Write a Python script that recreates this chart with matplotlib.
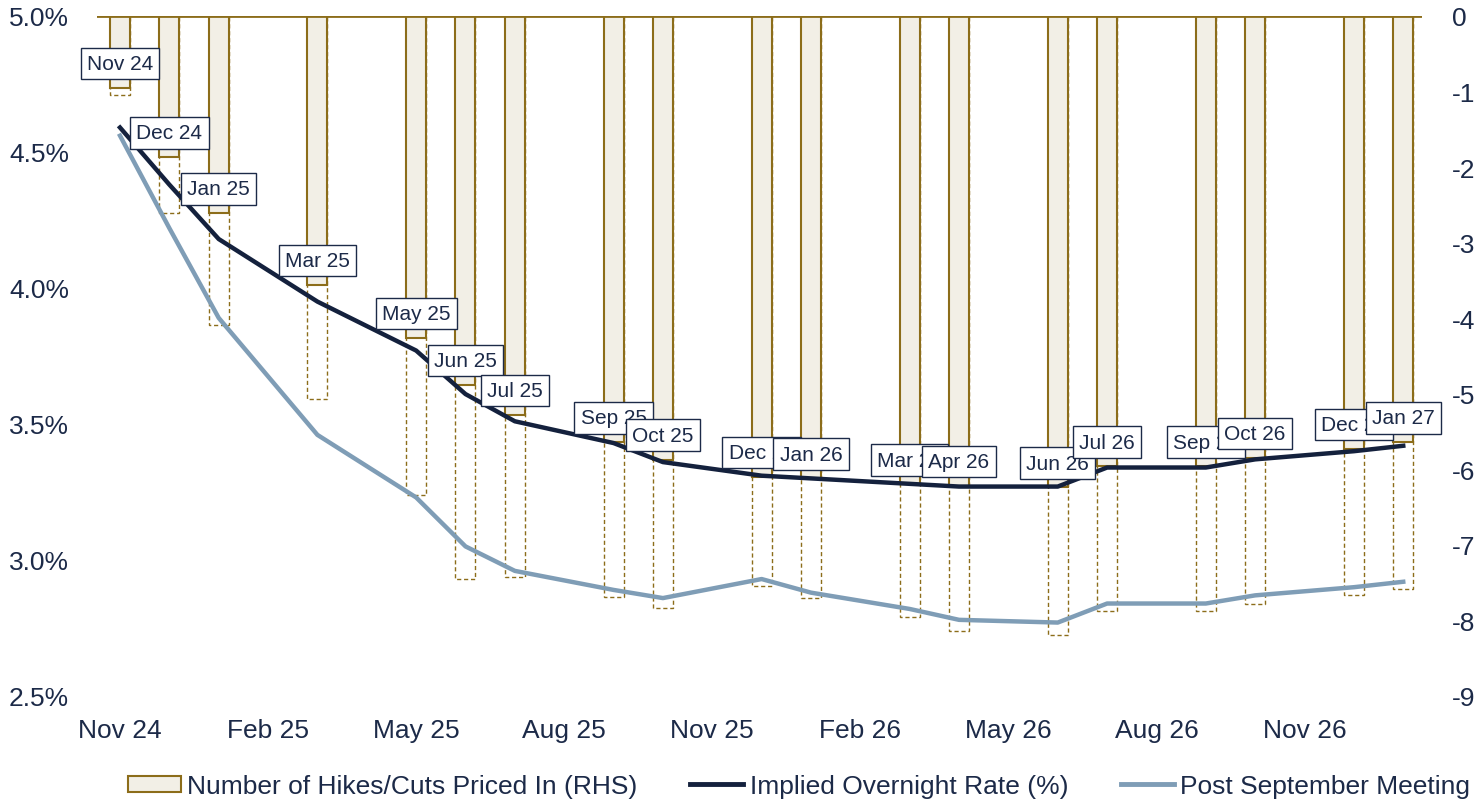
import numpy as np
import pandas as pd
import matplotlib
matplotlib.use('Agg')
import matplotlib.pyplot as plt
from matplotlib.patches import Patch
from matplotlib.lines import Line2D

plt.rcParams['font.family'] = ['Liberation Sans', 'DejaVu Sans']

# meeting months and what is priced in at each one
meetings = ['Nov 24', 'Dec 24', 'Jan 25', 'Mar 25', 'May 25', 'Jun 25', 'Jul 25', 'Sep 25', 'Oct 25',
            'Dec 25', 'Jan 26', 'Mar 26', 'Apr 26', 'Jun 26', 'Jul 26', 'Sep 26', 'Oct 26', 'Dec 26', 'Jan 27']
cuts_priced = [-0.95, -1.87, -2.61, -3.56, -4.26, -4.88, -5.28, -5.64, -5.87,
               -6.10, -6.12, -6.20, -6.22, -6.24, -5.96, -5.96, -5.85, -5.73, -5.64]
cuts_post_sep = [-1.04, -2.61, -4.09, -5.07, -6.34, -7.45, -7.42, -7.69, -7.83,
                 -7.55, -7.70, -7.96, -8.14, -8.19, -7.87, -7.87, -7.78, -7.66, -7.58]
implied_rate = [4.59, 4.38, 4.18, 3.95, 3.77, 3.61, 3.51, 3.43, 3.36,
                3.31, 3.30, 3.28, 3.27, 3.27, 3.34, 3.34, 3.37, 3.40, 3.42]
post_sep_rate = [4.56, 4.22, 3.89, 3.46, 3.23, 3.05, 2.96, 2.89, 2.86,
                 2.93, 2.88, 2.82, 2.78, 2.77, 2.84, 2.84, 2.87, 2.90, 2.92]

tick_labels = ['Nov 24', 'Feb 25', 'May 25', 'Aug 25', 'Nov 25', 'Feb 26', 'May 26', 'Aug 26', 'Nov 26']
left_ticks = [2.5, 3.0, 3.5, 4.0, 4.5, 5.0]
right_ticks = [-9, -8, -7, -6, -5, -4, -3, -2, -1, 0]

NAVY = '#14213d'
LIGHT = '#7f9db6'
GOLD = '#8c6d1a'
FILL = '#f2efe6'
TEXT = '#1c2a48'
FS = 19


def month_index(lbl: str) -> int:
    ''' months since Nov 24 '''
    p = pd.Period(pd.to_datetime(lbl, format='%b %y'), 'M')
    return (p - pd.Period('2024-11', 'M')).n


x = np.array([month_index(m) for m in meetings])
xt = np.array([month_index(m) for m in tick_labels])

fig = plt.figure(figsize=(14.81, 8.03), dpi=100)
ax = fig.add_axes([97 / 1481, 1 - 697 / 803, (1422 - 97) / 1481, (697 - 17) / 803])
ax2 = ax.twinx()

# bars on the right axis, dashed (post meeting) behind solid
bw = 0.405
ax2.bar(x, cuts_post_sep, width=bw, facecolor='none', edgecolor=GOLD, linestyle=(0, (3, 2)),
        linewidth=1.0, zorder=1)
ax2.bar(x, cuts_priced, width=bw, facecolor=FILL, edgecolor=GOLD, linewidth=1.5, zorder=2)
ax2.axhline(0, color=GOLD, linewidth=2, zorder=3)
ax2.set_ylim(-9, 0)
ax2.set_yticks(right_ticks)
ax2.set_yticklabels([str(t) for t in right_ticks])

# lines on the left axis, drawn above bars
ax.set_zorder(ax2.get_zorder() + 1)
ax.patch.set_visible(False)
ax.plot(x, post_sep_rate, color=LIGHT, linewidth=3.2, solid_joinstyle='round')
ax.plot(x, implied_rate, color=NAVY, linewidth=3.2, solid_joinstyle='round')
ax.set_ylim(2.5, 5.0)
ax.set_yticks(left_ticks)
ax.set_yticklabels([f'{t:.1f}%' for t in left_ticks])
ax.set_xlim(-0.466, 26.38)
ax.set_xticks(xt)
ax.set_xticklabels(tick_labels)

for a in (ax, ax2):
    for s in a.spines.values():
        s.set_visible(False)
    a.tick_params(length=0, labelsize=FS, colors=TEXT)
ax.tick_params(axis='y', pad=20)
ax.tick_params(axis='x', pad=16)
ax2.tick_params(axis='y', pad=21.5)

# data labels above the end of each solid bar, later ones on top
for i, (xi, v, lbl) in enumerate(zip(x, cuts_priced, meetings)):
    ax.annotate(lbl, xy=(xi, v), xycoords=ax2.transData, xytext=(0, 17.5), textcoords='offset points',
                ha='center', va='center', fontsize=15, color=TEXT, zorder=10 + i,
                bbox=dict(boxstyle='square,pad=0.3', facecolor='white', edgecolor=TEXT, linewidth=1.0))

handles = [
    Patch(facecolor=FILL, edgecolor=GOLD, linewidth=1.5),
    Line2D([], [], color=NAVY, linewidth=3.5),
    Line2D([], [], color=LIGHT, linewidth=3.5),
]
names = ['Number of Hikes/Cuts Priced In (RHS)', 'Implied Overnight Rate (%)', 'Post September Meeting']
leg = fig.legend(handles, names, loc='center', bbox_to_anchor=(0.5395, 0.02), ncol=3, frameon=False,
                 fontsize=FS, handlelength=2.0, handleheight=0.55, handletextpad=0.25, columnspacing=2.0,
                 labelcolor=TEXT)

plt.savefig('out.png', dpi=100)
